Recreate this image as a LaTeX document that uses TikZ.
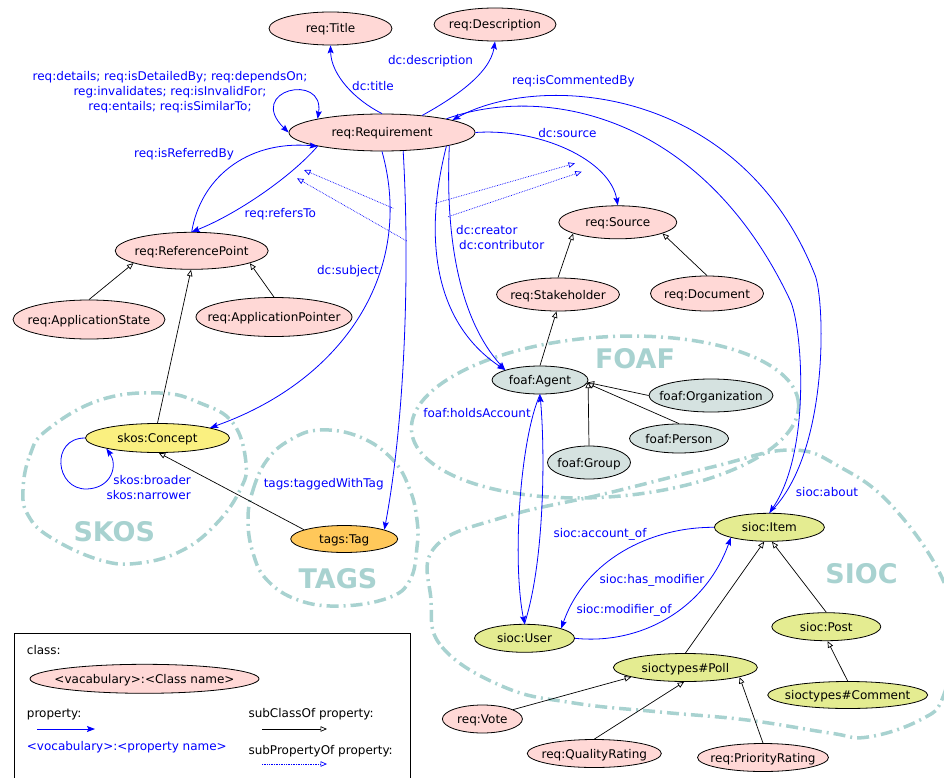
\documentclass[tikz,border=0pt]{standalone}
\usepackage{fontspec}
\setmainfont{DejaVu Sans}
\usetikzlibrary{arrows.meta,shapes.geometric}
\definecolor{reqc}{RGB}{255,216,214}
\definecolor{skosc}{RGB}{250,240,128}
\definecolor{tagc}{RGB}{255,200,90}
\definecolor{foafc}{RGB}{213,226,224}
\definecolor{siocc}{RGB}{228,236,145}
\definecolor{grpc}{RGB}{168,210,208}
\definecolor{propc}{RGB}{0,0,255}
\newcommand{\zb}[1]{\makebox[0pt]{#1}}
\begin{document}
\begin{tikzpicture}[x=1pt,y=-1pt,
  every node/.style={font=\fontsize{12}{15}\selectfont},
  cls/.style={ellipse, draw=black, line width=0.8pt, inner sep=0pt, text height=9pt, text depth=0pt},
  lab/.style={text=propc, inner sep=0pt, text height=9pt, text depth=0pt},
  lab2/.style={text=propc, inner sep=0pt},
  txt/.style={inner sep=0pt, text height=9pt, text depth=0pt, anchor=west},
  prop/.style={draw=propc, line width=0.8pt, -{Stealth[length=8pt,width=6pt,inset=1.5pt]}},
  propbi/.style={draw=propc, line width=0.8pt, {Stealth[length=8pt,width=6pt,inset=1.5pt]}-{Stealth[length=8pt,width=6pt,inset=1.5pt]}},
  subc/.style={draw=black, line width=0.7pt, -{Triangle[length=6.5pt,width=5.5pt,fill=white]}},
  subp/.style={draw=propc, line width=0.7pt, densely dotted, -{Triangle[length=6.5pt,width=5.5pt,fill=white]}},
  grp/.style={draw=grpc, line width=3.5pt, dash pattern=on 12pt off 5pt on 2pt off 5pt},
  grplab/.style={text=grpc, font=\fontsize{27}{30}\selectfont\bfseries, inner sep=0pt}]
\useasboundingbox (0,0) rectangle (944,778);

% ---------- groups ----------
\draw[grp] plot[smooth cycle, tension=0.7] coordinates {(23,490) (30,455) (47,430) (100,400) (160,393) (200,403) (233,423) (246,463) (240,490) (217,523) (183,550) (140,563) (100,560) (50,537) (28,515)};
\draw[grp] plot[smooth cycle, tension=0.7] coordinates {(248,520) (253,490) (267,460) (290,440) (320,430) (360,437) (393,460) (410,490) (417,520) (417,547) (410,580) (388,598) (340,606) (298,600) (267,580) (253,553)};
\draw[grp, rotate around={4:(605,417)}] (605,417) ellipse [x radius=194pt, y radius=80pt];
\draw[grp] plot[smooth cycle, tension=0.7] coordinates {(431,600) (442,647) (504,687) (574,703) (660,712) (747,720) (830,733) (868,737) (920,720) (943,697) (952,640) (943,580) (893,507) (840,467) (790,450) (712,467) (608,493) (504,517) (435,547)};
\node[grplab] at (114.3,532) {SKOS};
\node[grplab] at (338,579) {TAGS};
\node[grplab] at (635,359) {FOAF};
\node[grplab] at (861.5,574) {SIOC};

% ---------- nodes ----------
\node[cls, fill=reqc, minimum width=123pt, minimum height=33pt] (title) at (330.5,28.5) {\zb{req:Title}};
\node[cls, fill=reqc, minimum width=122pt, minimum height=33pt] (desc) at (495,24.5) {\zb{req:Description}};
\node[cls, fill=reqc, minimum width=186pt, minimum height=37pt] (req) at (382,132.5) {\zb{req:Requirement}};
\node[cls, fill=reqc, minimum width=153pt, minimum height=37pt] (refpt) at (191.7,250.8) {\zb{req:ReferencePoint}};
\node[cls, fill=reqc, minimum width=152pt, minimum height=39pt] (appstate) at (89,319.5) {\zb{req:ApplicationState}};
\node[cls, fill=reqc, minimum width=156pt, minimum height=39pt] (apppoint) at (274,317) {\zb{req:ApplicationPointer}};
\node[cls, fill=skosc, minimum width=144pt, minimum height=29pt] (concept) at (157.5,438) {\zb{skos:Concept}};
\node[cls, fill=tagc, minimum width=107pt, minimum height=27pt] (tag) at (344.2,539) {\zb{tags:Tag}};
\node[cls, fill=reqc, minimum width=118pt, minimum height=33pt] (source) at (617.8,222.3) {\zb{req:Source}};
\node[cls, fill=reqc, minimum width=123pt, minimum height=33pt] (stake) at (558,294.5) {\zb{req:Stakeholder}};
\node[cls, fill=reqc, minimum width=113pt, minimum height=35pt] (doc) at (707,293.5) {\zb{req:Document}};
\node[cls, fill=foafc, minimum width=96pt, minimum height=28pt] (agent) at (540,380) {\zb{foaf:Agent}};
\node[cls, fill=foafc, minimum width=124pt, minimum height=33pt] (org) at (711,395.5) {\zb{foaf:Organization}};
\node[cls, fill=foafc, minimum width=99pt, minimum height=29pt] (person) at (679,438.5) {\zb{foaf:Person}};
\node[cls, fill=foafc, minimum width=83pt, minimum height=33pt] (group) at (589,462.5) {\zb{foaf:Group}};
\node[cls, fill=siocc, minimum width=110pt, minimum height=28pt] (item) at (769.4,527.3) {\zb{sioc:Item}};
\node[cls, fill=siocc, minimum width=100pt, minimum height=28pt] (user) at (524.5,638.3) {\zb{sioc:User}};
\node[cls, fill=siocc, minimum width=109pt, minimum height=28pt] (post) at (826.3,626.7) {\zb{sioc:Post}};
\node[cls, fill=siocc, minimum width=144pt, minimum height=28pt] (poll) at (685.4,667.5) {\zb{sioctypes\#Poll}};
\node[cls, fill=siocc, minimum width=160pt, minimum height=27pt] (comment) at (847.7,695) {\zb{sioctypes\#Comment}};
\node[cls, fill=reqc, minimum width=80pt, minimum height=28pt] (vote) at (482.4,719) {\zb{req:Vote}};
\node[cls, fill=reqc, minimum width=134pt, minimum height=28pt] (quality) at (594.3,753.5) {\zb{req:QualityRating}};
\node[cls, fill=reqc, minimum width=131pt, minimum height=28pt] (priority) at (763,757.5) {\zb{req:PriorityRating}};

% ---------- property edges ----------
\draw[prop] (req.north) .. controls (355,100) and (331,75) .. (title.south);
\node[lab] at (373,86) {dc:title};
\draw[prop] (req.23) .. controls (450,100) and (490,75) .. (desc.south);
\node[lab] at (430.5,60) {dc:description};
\draw[propbi] (req.168) .. controls (325,72) and (245,90) .. (req.west);
\node[lab2, align=center] at (170,92) {req:details; req:isDetailedBy; req:dependsOn;\\reg:invalidates; req:isInvalidFor;\\req:entails; req:isSimilarTo;};
\draw[prop] (req.192) .. controls (290,178) and (235,215) .. (refpt.north);
\node[lab] at (280.3,213) {req:refersTo};
\draw[prop] (refpt.north) .. controls (200,180) and (245,140) .. (req.192);
\node[lab] at (184,153) {req:isReferredBy};
\draw[prop] (req.east) .. controls (540,128) and (610,160) .. (source.north);
\node[lab] at (567.4,133) {dc:source};
\draw[prop] (req.south) .. controls (415,270) and (345,380) .. (concept.11);
\node[lab] at (348,269.7) {dc:subject};
\draw[prop] (req.-41) .. controls (410,270) and (405,420) .. (tag.13);
\node[lab] at (323.7,483) {tags:taggedWithTag};
\draw[prop] (req.-12) .. controls (425,230) and (430,320) .. (agent.164);
\draw[prop] (req.-11) .. controls (445,240) and (460,320) .. (agent.164);
\node[lab, anchor=west] at (456,230) {dc:creator};
\node[lab, anchor=west] at (459,245) {dc:contributor};
\draw[prop] (item.north) .. controls (830,455) and (825,300) .. (815,275) .. controls (740,85) and (540,72) .. (req.10);
\draw[prop] (req.12) .. controls (540,85) and (700,110) .. (790,300) .. controls (802,325) and (812,450) .. (item.north);
\node[lab] at (573.4,80) {req:isCommentedBy};
\node[lab] at (827,492) {sioc:about};
\draw[prop] (agent.south) .. controls (520,440) and (512,560) .. (user.north);
\draw[prop] (user.north) .. controls (545,560) and (545,450) .. (agent.south);
\node[lab] at (477,413) {foaf:holdsAccount};
\node[lab] at (600,533.3) {sioc:account\_of};
\draw[prop] (item.west) .. controls (650,527) and (585,560) .. (user.15);
\node[lab] at (652,579.3) {sioc:has\_modifier};
\draw[prop] (user.east) .. controls (640,645) and (705,610) .. (item.195);
\node[lab] at (624,609.3) {sioc:modifier\_of};
\draw[prop] (concept.west) .. controls (50,438) and (55,490) .. (87,489) .. controls (112,488) and (118,465) .. (concept.south west);
\node[lab2, align=right, anchor=east] at (191,487.5) {skos:broader\\skos:narrower};

% ---------- subproperty edges ----------
\coordinate (sp1a) at (393.3,208.3); \coordinate (sp1b) at (304,170);
\coordinate (sp2a) at (406.7,241); \coordinate (sp2b) at (297,178.3);
\coordinate (sp3a) at (435,203.3); \coordinate (sp3b) at (575,163.3);
\coordinate (sp4a) at (448.3,216.7); \coordinate (sp4b) at (581.7,171.7);
\draw[subp] (sp1a) -- (sp1b);
\draw[subp] (sp2a) -- (sp2b);
\draw[subp] (sp3a) -- (sp3b);
\draw[subp] (sp4a) -- (sp4b);

% ---------- subclass edges ----------
\draw[subc] (appstate.north) -- (refpt.192);
\draw[subc] (apppoint.north) -- (refpt.-12);
\draw[subc] (concept.north) -- (refpt.-92);
\draw[subc] (tag.167) -- (concept.-85);
\draw[subc] (stake.north) -- (source.194);
\draw[subc] (doc.north) -- (source.-14);
\draw[subc] (agent.north) -- (stake.-95);
\draw[subc] (org.west) -- (agent.-3);
\draw[subc] (person.north) -- (agent.-4);
\draw[subc] (group.north) -- (agent.-2);
\draw[subc] (poll.north) -- (item.-110);
\draw[subc] (post.north) -- (item.-80);
\draw[subc] (comment.north) -- (post.-85);
\draw[subc] (vote.17) -- (poll.190);
\draw[subc] (quality.north) -- (poll.-95);
\draw[subc] (priority.north) -- (poll.-10);

% ---------- legend ----------
\draw[black, line width=0.8pt] (14,790) -- (14,633) -- (410,633) -- (410,790);
\node[txt] (lgclass) at (26.7,650) {class:};
\node[cls, fill=reqc, minimum width=229pt, minimum height=29pt] (lgell) at (144.5,678.8) {\zb{<vacabulary>:<Class name>}};
\node[txt] (lgprop) at (26.7,713) {property:};
\coordinate (lp1) at (37,729); \coordinate (lp2) at (95,729);
\draw[prop] (lp1) -- (lp2);
\node[txt, text=propc] (lgpname) at (26.7,746) {<vocabulary>:<property name>};
\node[txt] (lgsubc) at (248.3,713) {subClassOf property:};
\coordinate (ls1) at (262,729); \coordinate (ls2) at (327,729);
\draw[subc] (ls1) -- (ls2);
\node[txt] (lgsubp) at (248.3,750) {subPropertyOf property:};
\coordinate (ld1) at (262,764); \coordinate (ld2) at (327,764);
\draw[subp] (ld1) -- (ld2);
\end{tikzpicture}
\end{document}
